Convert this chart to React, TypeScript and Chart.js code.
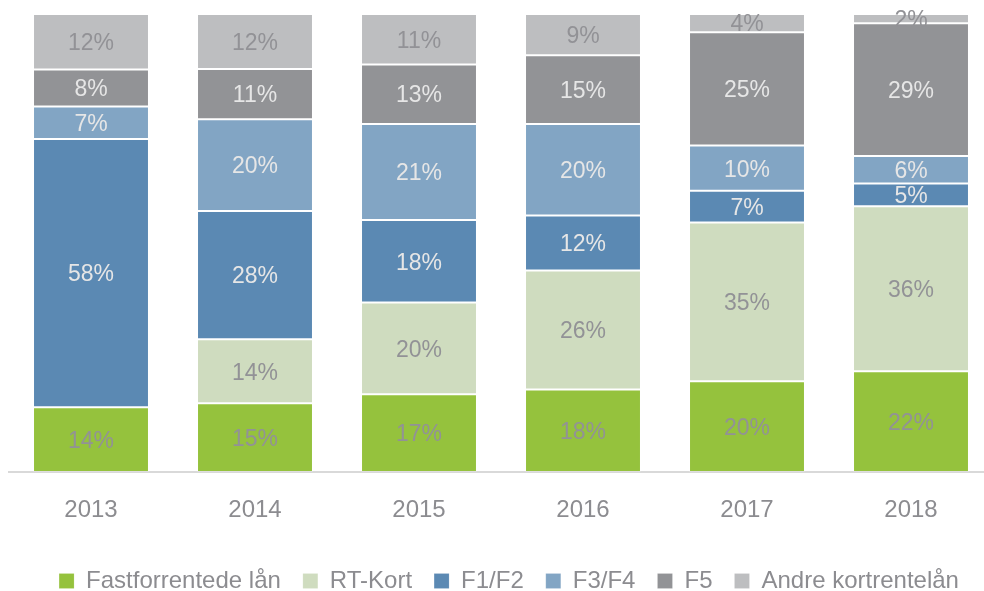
import React, { useEffect, useRef } from "react";
import { Chart, registerables } from "chart.js";

Chart.register(...registerables);

const years = ["2013", "2014", "2015", "2016", "2017", "2018"];
const fastforrentede = [14, 15, 17, 18, 20, 22];
const rtKort = [0, 14, 20, 26, 35, 36];
const f1f2 = [58, 28, 18, 12, 7, 5];
const f3f4 = [7, 20, 21, 20, 10, 6];
const f5 = [8, 11, 13, 15, 25, 29];
const andre = [12, 12, 11, 9, 4, 2];

const seriesNames = ["Fastforrentede lån", "RT-Kort", "F1/F2", "F3/F4", "F5", "Andre kortrentelån"];
const seriesColors = ["#95c23d", "#cfdcbf", "#5b89b3", "#82a5c4", "#929396", "#bdbec0"];
const labelColors = ["#929296", "#929296", "#e6e6e6", "#e6e6e6", "#e6e6e6", "#929296"];

const FONT = "'Liberation Sans', Arial, sans-serif";

export default function App() {
  const ref = useRef<HTMLCanvasElement | null>(null);

  useEffect(() => {
    if (!ref.current) return;
    const raw = [fastforrentede, rtKort, f1f2, f3f4, f5, andre];
    const totals = years.map((_, i) => raw.reduce((s, arr) => s + arr[i], 0));

    const labelPlugin = {
      id: "segLabels",
      afterLayout(chart: any) {
        if (chart.legend) {
          chart.legend.left += 8;
          chart.legend.right += 8;
        }
      },
      afterDatasetsDraw(chart: any) {
        const ctx = chart.ctx;
        ctx.save();
        ctx.font = `23px ${FONT}`;
        ctx.textAlign = "center";
        ctx.textBaseline = "middle";
        chart.data.datasets.forEach((ds: any, di: number) => {
          const meta = chart.getDatasetMeta(di);
          meta.data.forEach((bar: any, i: number) => {
            const v = raw[di][i];
            if (!v) return;
            const props = bar.getProps(["x", "y", "base"], true);
            const cy = (props.y + props.base) / 2;
            ctx.fillStyle = labelColors[di];
            ctx.fillText(`${v}%`, props.x, cy + 2);
          });
        });
        ctx.restore();
      },
    };

    const chart = new Chart(ref.current, {
      type: "bar",
      data: {
        labels: years,
        datasets: raw.map((arr, di) => ({
          label: seriesNames[di],
          data: arr.map((v, i) => (v / totals[i]) * 100),
          backgroundColor: seriesColors[di],
          borderColor: "rgba(255,255,255,0.15)",
          borderWidth: 1,
          borderSkipped: false,
          categoryPercentage: 1,
          barPercentage: 0.707,
        })),
      },
      options: {
        responsive: false,
        animation: false,
        devicePixelRatio: 1,
        layout: { padding: { top: 14, left: 9, right: 7, bottom: 0 } },
        plugins: {
          tooltip: { enabled: false },
          legend: {
            position: "bottom",
            labels: {
              boxWidth: 15,
              boxHeight: 15,
              padding: 22,
              color: "#8c8c90",
              font: { size: 24, family: FONT },
            },
          },
        },
        scales: {
          x: {
            stacked: true,
            grid: { display: false, drawTicks: false },
            border: { display: true, color: "#d9d9d9", width: 2 },
            ticks: { color: "#8c8c90", font: { size: 24, family: FONT }, padding: 24 },
            afterFit: (scale: any) => {
              scale.height = 75;
            },
          },
          y: {
            stacked: true,
            display: false,
            min: 0,
            max: 100,
          },
        },
      },
      plugins: [labelPlugin],
    });
    return () => chart.destroy();
  }, []);

  return (
    <div style={{ position: "absolute", left: 0, top: 0, width: 984, height: 591, overflow: "hidden" }}>
      <canvas ref={ref} width={1000} height={603} style={{ display: "block" }} />
    </div>
  );
}
